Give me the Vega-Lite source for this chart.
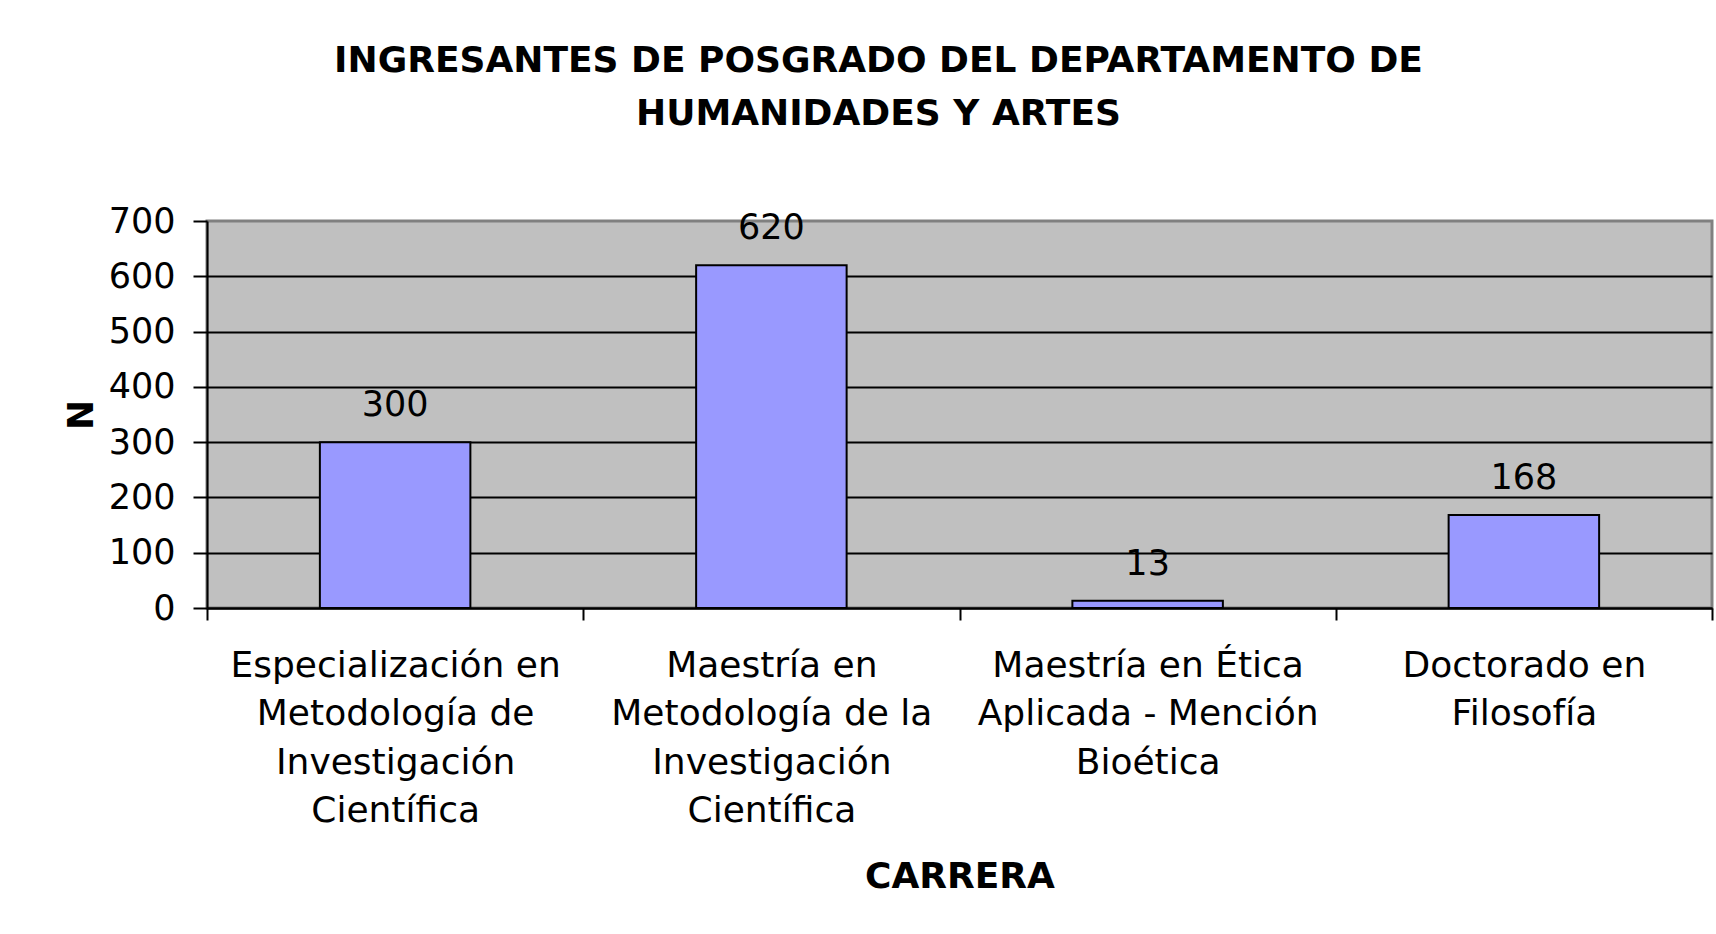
{
  "$schema": "https://vega.github.io/schema/vega-lite/v6.json",
  "width": 1505,
  "height": 387,
  "autosize": {"type": "none"},
  "padding": {"left": 207, "top": 221, "right": 4, "bottom": 326},
  "background": "white",
  "title": {
    "text": ["INGRESANTES DE POSGRADO DEL DEPARTAMENTO DE", "HUMANIDADES Y ARTES"],
    "font": "DejaVu Sans",
    "fontSize": 36,
    "fontWeight": "bold",
    "color": "black",
    "anchor": "middle",
    "baseline": "alphabetic",
    "lineHeight": 53,
    "dx": -81,
    "offset": 43
  },
  "data": {
    "values": [
      {"carrera": "Especialización en\nMetodología de\nInvestigación\nCientífica", "n": 300},
      {"carrera": "Maestría en\nMetodología de la\nInvestigación\nCientífica", "n": 620},
      {"carrera": "Maestría en Ética\nAplicada - Mención\nBioética", "n": 13},
      {"carrera": "Doctorado en\nFilosofía", "n": 168}
    ]
  },
  "encoding": {
    "x": {
      "field": "carrera",
      "type": "nominal",
      "sort": null,
      "scale": {"paddingInner": 0, "paddingOuter": 0},
      "axis": {
        "title": "CARRERA",
        "labelAngle": 0,
        "labelExpr": "split(datum.label, '\\n')",
        "labelFont": "DejaVu Sans",
        "labelFontSize": 36,
        "labelColor": "black",
        "labelLineHeight": 48.5,
        "labelPadding": 28,
        "labelLimit": 0,
        "labelBaseline": "top",
        "tickBand": "extent",
        "tickSize": 12,
        "tickWidth": 2,
        "tickColor": "black",
        "domainColor": "black",
        "domainWidth": 2,
        "grid": false,
        "titleFont": "DejaVu Sans",
        "titleFontSize": 36,
        "titleFontWeight": "bold",
        "titleColor": "black",
        "titleBaseline": "alphabetic",
        "titleY": 279
      }
    },
    "y": {
      "field": "n",
      "type": "quantitative",
      "scale": {"domain": [0, 700], "nice": false},
      "axis": {
        "title": "N",
        "values": [0, 100, 200, 300, 400, 500, 600, 700],
        "labelFont": "DejaVu Sans",
        "labelFontSize": 35,
        "labelColor": "black",
        "labelPadding": 18,
        "tickSize": 14,
        "tickWidth": 2,
        "tickColor": "black",
        "domainColor": "black",
        "domainWidth": 2,
        "grid": true,
        "gridColor": {"condition": {"test": "datum.value === 700", "value": "transparent"}, "value": "black"},
        "gridWidth": 2,
        "gridOpacity": 1,
        "titleFont": "DejaVu Sans",
        "titleFontSize": 36,
        "titleFontWeight": "bold",
        "titleColor": "black",
        "titleAngle": -90,
        "titleBaseline": "alphabetic",
        "titleAlign": "center",
        "titleX": -115,
        "titleY": 193.5
      }
    }
  },
  "layer": [
    {
      "mark": {"type": "bar", "fill": "#9999FF", "stroke": "black", "strokeWidth": 2, "width": {"band": 0.4}}
    },
    {
      "mark": {"type": "text", "font": "DejaVu Sans", "fontSize": 35, "color": "black", "baseline": "alphabetic", "dy": -26},
      "encoding": {"text": {"field": "n", "type": "quantitative"}}
    }
  ],
  "config": {
    "view": {"stroke": "#808080", "strokeWidth": 3, "fill": "#C0C0C0"}
  }
}
